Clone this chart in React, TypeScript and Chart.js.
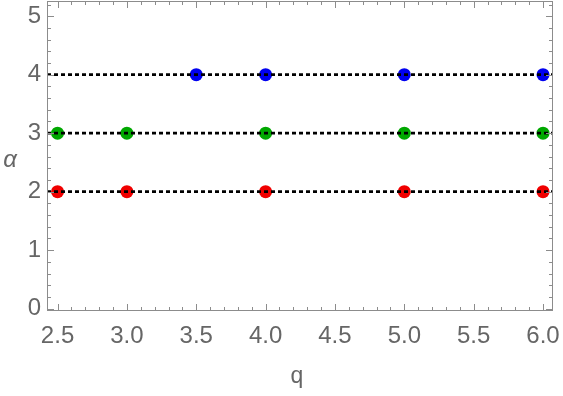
import React, { useEffect, useRef } from "react";
import { Chart, registerables } from "chart.js";
Chart.register(...registerables);

const xMin = 2.424;
const xMax = 6.072;
const yMin = -0.04;
const yMax = 5.26;
const xTicks = [2.5, 3.0, 3.5, 4.0, 4.5, 5.0, 5.5, 6.0];
const yTicks = [0, 1, 2, 3, 4, 5];
const levels = [2, 3, 4];

const redQ = [2.5, 3.0, 4.0, 5.0, 6.0];
const redA = [2, 2, 2, 2, 2];
const greenQ = [2.5, 3.0, 4.0, 5.0, 6.0];
const greenA = [3, 3, 3, 3, 3];
const blueQ = [3.5, 4.0, 5.0, 6.0];
const blueA = [4, 4, 4, 4];

const GRAY = "#666666";
const FRAME = "#8c8c8c";
const FONT = "'Liberation Sans', Arial, sans-serif";

const framePlugin = {
  id: "frame",
  afterDraw(chart: any) {
    const { ctx, chartArea: a, scales } = chart;
    const xs = scales.x;
    const ys = scales.y;
    ctx.save();
    ctx.strokeStyle = FRAME;
    ctx.lineWidth = 1;
    ctx.strokeRect(a.left + 0.5, a.top + 0.5, a.right - a.left - 1, a.bottom - a.top - 1);
    ctx.beginPath();
    for (let i = 24; i <= 61; i++) {
      const v = i / 10;
      const px = Math.round(xs.getPixelForValue(v)) + 0.5;
      if (px < a.left || px > a.right) continue;
      const major = i % 5 === 0;
      const len = major ? 7 : 4;
      ctx.moveTo(px, a.bottom);
      ctx.lineTo(px, a.bottom - len);
      ctx.moveTo(px, a.top);
      ctx.lineTo(px, a.top + len);
    }
    for (let i = 0; i <= 26; i++) {
      const v = i / 5;
      const py = Math.round(ys.getPixelForValue(v)) + 0.5;
      if (py < a.top || py > a.bottom) continue;
      const major = i % 5 === 0;
      const len = major ? 7 : 4;
      ctx.moveTo(a.left, py);
      ctx.lineTo(a.left + len, py);
      ctx.moveTo(a.right, py);
      ctx.lineTo(a.right - len, py);
    }
    ctx.stroke();
    ctx.fillStyle = GRAY;
    ctx.font = `italic 24px ${FONT}`;
    ctx.textAlign = "center";
    ctx.textBaseline = "middle";
    ctx.fillText("α", 10, 160);
    ctx.font = `23px ${FONT}`;
    ctx.textBaseline = "alphabetic";
    ctx.fillText("q", 297, 383);
    ctx.restore();
  },
};

export default function App() {
  const ref = useRef<HTMLCanvasElement>(null);
  useEffect(() => {
    document.body.style.margin = "0";
    const lineSets = levels.map((lv) => ({
      type: "line" as const,
      data: [
        { x: xMin, y: lv },
        { x: xMax, y: lv },
      ],
      borderColor: "#000000",
      borderWidth: 2.8,
      borderDash: [4, 3],
      pointRadius: 0,
      order: 0,
    }));
    const pts = (q: number[], a: number[], color: string) => ({
      type: "scatter" as const,
      data: q.map((v, i) => ({ x: v, y: a[i] })),
      backgroundColor: color,
      borderWidth: 0,
      pointRadius: 6.5,
      order: 1,
    });
    const chart = new Chart(ref.current!, {
      type: "scatter",
      data: {
        datasets: [
          ...lineSets,
          pts(redQ, redA, "#f00000"),
          pts(greenQ, greenA, "#00a800"),
          pts(blueQ, blueA, "#0000f0"),
        ] as any,
      },
      options: {
        animation: false,
        responsive: false,
        clip: false as any,
        plugins: { legend: { display: false }, tooltip: { enabled: false } },
        layout: { autoPadding: false, padding: { top: 1, right: 10, left: 0, bottom: 0 } },
        scales: {
          x: {
            type: "linear",
            min: xMin,
            max: xMax,
            grid: { display: false, drawTicks: false },
            border: { display: false },
            afterBuildTicks: (s: any) => {
              s.ticks = xTicks.map((v) => ({ value: v }));
            },
            afterFit: (s: any) => {
              s.height = 85;
              s.paddingLeft = 0;
              s.paddingRight = 0;
            },
            ticks: {
              color: GRAY,
              font: { family: FONT, size: 24 },
              padding: 11,
              maxRotation: 0,
              autoSkip: false,
              callback: (v: any) => Number(v).toFixed(1),
            },
          },
          y: {
            type: "linear",
            min: yMin,
            max: yMax,
            grid: { display: false, drawTicks: false },
            border: { display: false },
            afterBuildTicks: (s: any) => {
              s.ticks = yTicks.map((v) => ({ value: v }));
            },
            afterFit: (s: any) => {
              s.width = 47;
              s.paddingTop = 0;
              s.paddingBottom = 0;
            },
            ticks: {
              color: GRAY,
              font: { family: FONT, size: 24 },
              padding: 6,
              autoSkip: false,
              callback: (v: any) => String(v),
            },
          },
        },
      },
      plugins: [framePlugin],
    });
    return () => chart.destroy();
  }, []);
  return (
    <div style={{ position: "relative", width: 563, height: 396 }}>
      <canvas ref={ref} width={563} height={396} style={{ display: "block" }} />
    </div>
  );
}
